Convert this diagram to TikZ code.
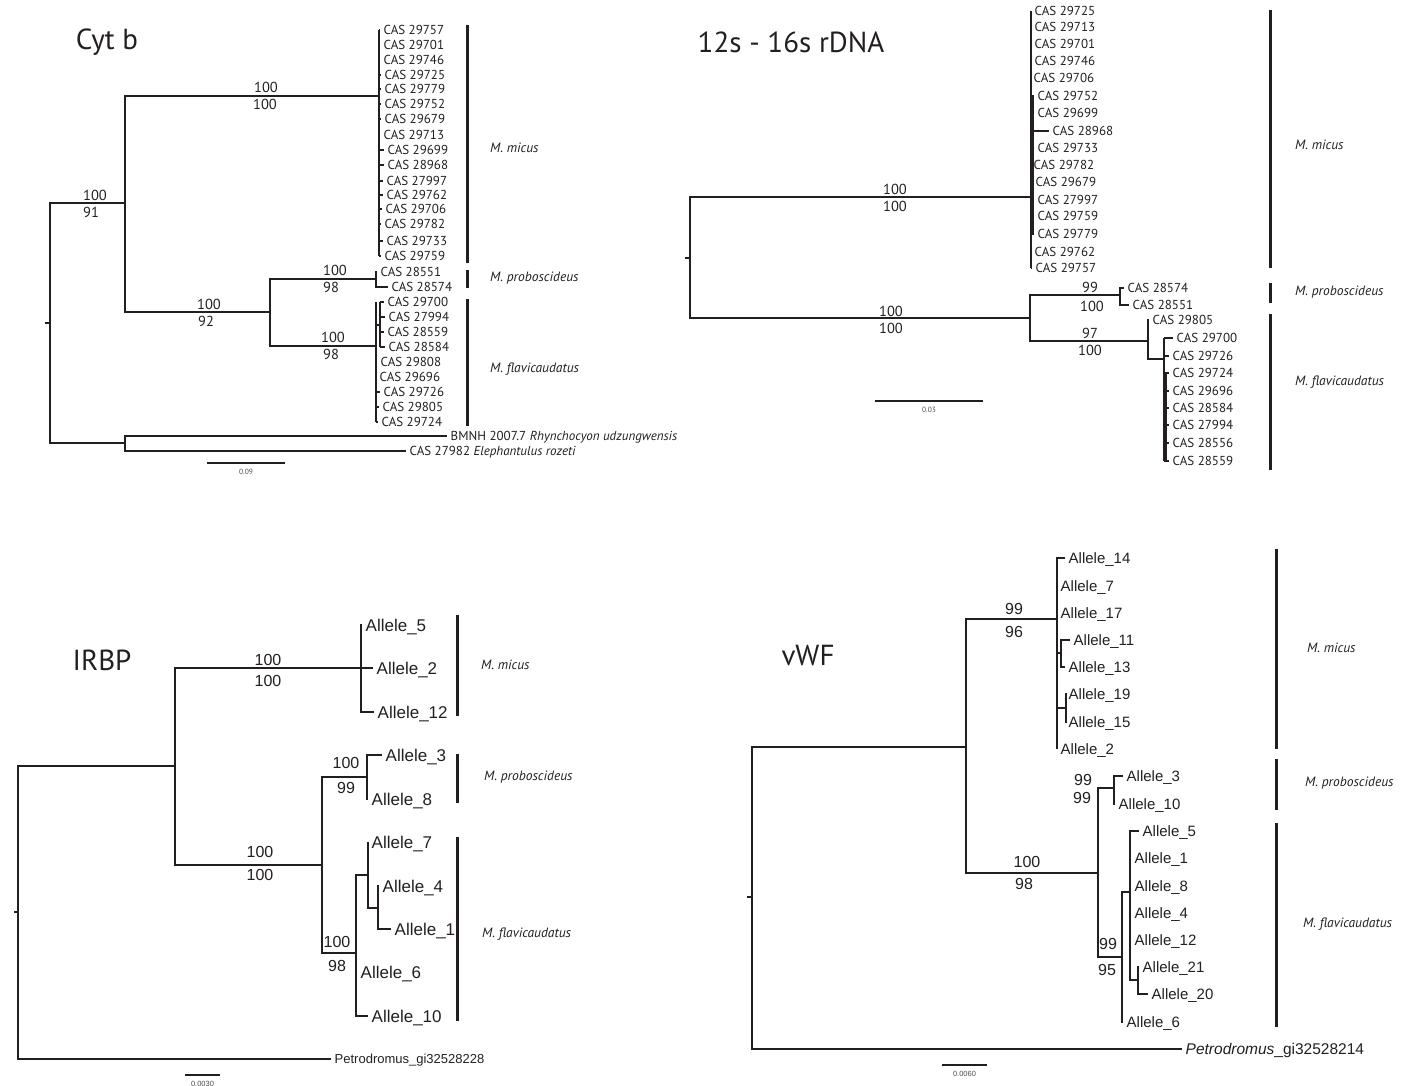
\documentclass[tikz,border=0pt]{standalone}
\usepackage{fontspec}
\newfontfamily\myr{PT Sans}
\newfontfamily\arl{Liberation Sans}
\definecolor{ink}{HTML}{231F20}
\tikzset{
  br/.style={line width=2.5pt, color=ink},
  twig/.style={line width=1.5pt, color=ink},
  stub/.style={line width=2.2pt, color=ink},
  grp/.style={line width=3pt, color=ink},
  sbar/.style={line width=2.4pt, color=ink},
  ttl/.style={font=\myr\fontsize{29}{29}\selectfont, text=ink, inner sep=0pt},
  cas/.style={font=\myr\fontsize{13}{13}\selectfont, text=ink, anchor=west, inner xsep=3.5pt, inner ysep=0pt, text height=9.2pt, text depth=0pt},
  bsc/.style={font=\myr\fontsize{14.5}{14.5}\selectfont, text=ink, inner sep=0pt, text height=10.2pt, text depth=0pt},
  alli/.style={font=\arl\fontsize{17}{17}\selectfont, text=ink, anchor=west, inner xsep=3.5pt, inner ysep=0pt, text height=12.2pt, text depth=0pt},
  allv/.style={alli, font=\arl\fontsize{15}{15}\selectfont, text height=10.8pt},
  bsa/.style={font=\arl\fontsize{16}{16}\selectfont, text=ink, inner sep=0pt, text height=11.5pt, text depth=0pt},
  spc/.style={font=\myr\itshape\fontsize{13.5}{13.5}\selectfont, text=ink, anchor=west, inner sep=0pt, text height=9.5pt, text depth=0pt},
  slab/.style={font=\myr\fontsize{7.5}{7.5}\selectfont, text=ink!80, inner sep=0pt},
  slaba/.style={font=\arl\fontsize{7.5}{7.5}\selectfont, text=ink!80, inner sep=0pt},
}
\begin{document}
\begin{tikzpicture}[x=1pt, y=-1pt]
\useasboundingbox (0,0) rectangle (1413,1086);

% ================= Cyt b =================
\node[ttl] (tcyt) at (107,42) {Cyt b};
\coordinate (c0) at (50,323);   % root
\coordinate (c1) at (125,203);  % ingroup
\coordinate (c2) at (379,96);   % M. micus
\coordinate (c3) at (270,312);
\coordinate (c4) at (376,279);  % M. proboscideus
\coordinate (c5) at (376,346);  % M. flavicaudatus
\coordinate (c5a) at (380,325);
\coordinate (c6) at (125,443);  % outgroups
\draw[stub] (c0) -- ++(-5,0);
\draw[br] (c1) -| (c0) |- (c6);
\draw[br] (c2) -| (c1) |- (c3);
\draw[br] (c4) -| (c3) |- (c5);
\node[bsc] (k1a) at (95,195) {100};  \node[bsc] (k1b) at (91,212) {91};
\node[bsc] (k2a) at (266,87) {100};  \node[bsc] (k2b) at (265,104) {100};
\node[bsc] (k3a) at (209,304) {100}; \node[bsc] (k3b) at (206,321) {92};
\node[bsc] (k4a) at (335,270) {100}; \node[bsc] (k4b) at (331,287) {98};
\node[bsc] (k5a) at (333,337) {100}; \node[bsc] (k5b) at (331,354) {98};

\foreach \n/\lab/\x/\y in {1/29757/380/30, 2/29701/380/45, 3/29746/380/60, 4/29725/381/75,
  5/29779/381/89, 6/29752/381/104, 7/29679/381/119, 8/29713/380/135, 9/29699/384/150,
  10/28968/384/165, 11/27997/383/181, 12/29762/383/195, 13/29706/382/209, 14/29782/381/224,
  15/29733/383/241, 16/29759/381/256}{
  \node[cas] (cm\n) at (\x,\y) {CAS \lab};
  \draw[twig] (cm\n.west -| c2) -- (cm\n.west);
}
\draw[br] (cm1.west -| c2) -- (cm16.west -| c2);

\node[cas] (cp1) at (377,272) {CAS 28551};
\node[cas] (cp2) at (388,287) {CAS 28574};
\draw[br] (cp1.west) -| (c4) |- (cp2.west);

\foreach \n/\lab/\x/\y in {1/29700/384/302, 2/27994/385/317, 3/28559/384/332, 4/28584/385/347}{
  \node[cas] (cf\n) at (\x,\y) {CAS \lab};
  \draw[twig] (cf\n.west -| c5a) -- (cf\n.west);
}
\foreach \n/\lab/\x/\y in {5/29808/377/362, 6/29696/376/377, 7/29726/380/392, 8/29805/379/407, 9/29724/378/422}{
  \node[cas] (cf\n) at (\x,\y) {CAS \lab};
  \draw[twig] (cf\n.west -| c5) -- (cf\n.west);
}
\draw[br] (cf1.west -| c5a) -- (cf4.west -| c5a);
\draw[br] (cf1.west -| c5) -- (cf9.west -| c5);
\draw[br] (c5a) -- (c5a -| c5);

\node[cas] (co1) at (447,436) {BMNH 2007.7 \textit{Rhynchocyon udzungwensis}};
\node[cas] (co2) at (406,451) {CAS 27982 \textit{Elephantulus rozeti}};
\draw[br] (co1.west) -| (c6) |- (co2.west);

\draw[grp] (467,25) -- (467,263);
\draw[grp] (467,270) -- (467,288);
\draw[grp] (467,299) -- (467,426);
\node[spc] (sc1) at (490,148) {M. micus};
\node[spc] (sc2) at (490,277) {M. proboscideus};
\node[spc] (sc3) at (490,368) {M. flavicaudatus};

\coordinate (cs1) at (207,463);
\coordinate (cs2) at (285,463);
\draw[sbar] (cs1) -- (cs2) node[slab, midway, below=5pt] (csl) {0.09};

% ================= 12s - 16s rDNA =================
\node[ttl] (t12) at (791,42) {12s - 16s rDNA};
\coordinate (r0) at (690,258);   % root
\coordinate (r1) at (1031,197);  % M. micus
\coordinate (r2) at (1030,318);
\coordinate (r3) at (1120,295);  % M. proboscideus
\coordinate (r4) at (1148,341);  % M. flavicaudatus
\coordinate (r5) at (1164,359);
\draw[stub] (r0) -- ++(-5,0);
\draw[br] (r1) -| (r0) |- (r2);
\draw[br] (r3) -| (r2) |- (r4);
\node[bsc] (q1a) at (895,189) {100};  \node[bsc] (q1b) at (895,206) {100};
\node[bsc] (q2a) at (891,311) {100};  \node[bsc] (q2b) at (891,328) {100};
\node[bsc] (q3a) at (1090,287) {99};  \node[bsc] (q3b) at (1092,306) {100};
\node[bsc] (q4a) at (1090,333) {97};  \node[bsc] (q4b) at (1090,350) {100};

\foreach \n/\lab/\x/\y in {1/29725/1031/11, 2/29713/1031/27, 3/29701/1031/44, 4/29746/1031/61,
  5/29706/1030/78, 6/29752/1034/96, 7/29699/1034/113, 8/28968/1049/131, 9/29733/1034/148,
  10/29782/1030/165, 11/29679/1032/182, 12/27997/1034/200, 13/29759/1034/216,
  14/29779/1034/234, 15/29762/1031/252, 16/29757/1032/268}{
  \node[cas] (rm\n) at (\x,\y) {CAS \lab};
  \draw[twig] (rm\n.west -| r1) -- (rm\n.west);
}
\draw[br] (rm1.west -| r1) -- (rm16.west -| r1);
\draw[br] (rm6.west -| r1) ++(2,0) -- ([xshift=2pt]rm14.west -| r1);
\draw[br] (rm8.west -| r1) -- ([xshift=-2pt]rm8.west);

\node[cas] (rp1) at (1124,288) {CAS 28574};
\node[cas] (rp2) at (1129,305) {CAS 28551};
\draw[br] (rp1.west) -| (r3) |- (rp2.west);

\node[cas] (rf0) at (1149,320) {CAS 29805};
\draw[br] (rf0.west) -| (r4) |- (r5);
\foreach \n/\lab/\x/\y in {1/29700/1173/338, 2/29726/1169/356, 3/29724/1169/373, 4/29696/1169/391,
  5/28584/1169/408, 6/27994/1169/425, 7/28556/1169/443, 8/28559/1169/461}{
  \node[cas] (rf\n) at (\x,\y) {CAS \lab};
  \draw[twig] (rf\n.west -| r5) -- (rf\n.west);
}
\draw[br] (rf1.west -| r5) -- (rf8.west -| r5);
\draw[twig] ([xshift=2pt]rf3.west -| r5) -- ([xshift=2pt]rf8.west -| r5);

\draw[grp] (1270,10) -- (1270,268);
\draw[grp] (1270,283) -- (1270,303);
\draw[grp] (1270,314) -- (1270,470);
\node[spc] (sr1) at (1295,145) {M. micus};
\node[spc] (sr2) at (1295,291) {M. proboscideus};
\node[spc] (sr3) at (1295,381) {M. flavicaudatus};

\coordinate (rs1) at (875,401);
\coordinate (rs2) at (983,401);
\draw[sbar] (rs1) -- (rs2) node[slab, midway, below=5pt] (rsl) {0.03};

% ================= IRBP =================
\node[ttl] (tir) at (102,660) {IRBP};
\coordinate (i0) at (18,912);   % root
\coordinate (i1) at (175,766);  % ingroup
\coordinate (i2) at (361,668);  % M. micus
\coordinate (i3) at (322,865);
\coordinate (i4) at (367,777);  % M. proboscideus
\coordinate (i5) at (356,953);  % M. flavicaudatus
\coordinate (i6) at (368,875);
\coordinate (i7) at (378,908);
\node[alli, font=\arl\fontsize{13}{13}\selectfont, text height=9.3pt] (ipe) at (331,1059) {Petrodromus\_gi32528228};
\draw[stub] (i0) -- ++(-4,0);
\draw[br] (i1) -| (i0) |- (ipe.west);
\draw[br] (i2) -| (i1) |- (i3);
\draw[br] (i4) -| (i3) |- (i5);
\node[bsa] (j1a) at (268,660) {100}; \node[bsa] (j1b) at (268,681) {100};
\node[bsa] (j2a) at (260,852) {100}; \node[bsa] (j2b) at (260,875) {100};
\node[bsa] (j3a) at (346,763) {100}; \node[bsa] (j3b) at (346,788) {99};
\node[bsa] (j4a) at (337,942) {100}; \node[bsa] (j4b) at (337,966) {98};

\node[alli] (ia5) at (362,625) {Allele\_5};
\node[alli] (ia2) at (373,668) {Allele\_2};
\node[alli] (ia12) at (374,712) {Allele\_12};
\draw[br] (ia5.west) -| (i2) |- (ia12.west);
\draw[br] (i2) -- (ia2.west);

\node[alli] (ia3) at (382,755) {Allele\_3};
\node[alli] (ia8) at (368,799) {Allele\_8};
\draw[br] (ia3.west) -| (i4) |- (ia8.west);

\node[alli] (ia7) at (368,842) {Allele\_7};
\node[alli] (ia4) at (379,886) {Allele\_4};
\node[alli] (ia1) at (391,929) {Allele\_1};
\node[alli] (ia6) at (357,972) {Allele\_6};
\node[alli] (ia10) at (368,1016) {Allele\_10};
\draw[br] (i6) -| (i5) |- (ia10.west);
\draw[br] (ia7.west) -| (i6) |- (i7);
\draw[br] (ia4.west) -| (i7) |- (ia1.west);

\draw[grp] (457,615) -- (457,716);
\draw[grp] (457,754) -- (457,803);
\draw[grp] (457,837) -- (457,1021);
\node[spc] (si1) at (481,665) {M. micus};
\node[spc] (si2) at (484,776) {M. proboscideus};
\node[spc] (si3) at (482,933) {M. flavicaudatus};

\coordinate (is1) at (185,1075);
\coordinate (is2) at (220,1075);
\draw[sbar] (is1) -- (is2) node[slaba, midway, below=5pt] (isl) {0.0030};

% ================= vWF =================
\node[ttl] (tvw) at (808,656) {vWF};
\coordinate (v0) at (752,897);   % root
\coordinate (v1) at (966,747);   % ingroup
\coordinate (v2) at (1057,619);  % M. micus
\coordinate (v2a) at (1061,653);
\coordinate (v2b) at (1066,708);
\coordinate (v3) at (1098,873);
\coordinate (v3a) at (1114,788); % M. proboscideus
\coordinate (v4) at (1122,957);  % M. flavicaudatus
\coordinate (v5) at (1130,892);
\coordinate (v6) at (1138,980);
\node[allv, font=\arl\fontsize{15.5}{15.5}\selectfont, text height=11.1pt] (vpe) at (1182,1049) {\textit{Petrodromus}\_gi32528214};
\draw[stub] (v0) -- ++(-5,0);
\draw[br] (v1) -| (v0) |- (vpe.west);
\draw[br] (v2) -| (v1) |- (v3);
\draw[br] (v3a) -| (v3) |- (v4);
\node[bsa] (w1a) at (1014,609) {99};  \node[bsa] (w1b) at (1014,632) {96};
\node[bsa] (w2a) at (1027,862) {100}; \node[bsa] (w2b) at (1024,884) {98};
\node[bsa] (w3a) at (1083,780) {99};  \node[bsa] (w3b) at (1082,798) {99};
\node[bsa] (w4a) at (1108,944) {99};  \node[bsa] (w4b) at (1107,970) {95};

\node[allv] (va14) at (1065,558) {Allele\_14};
\node[allv] (va7) at (1057,586) {Allele\_7};
\node[allv] (va17) at (1057,613) {Allele\_17};
\node[allv] (va11) at (1070,640) {Allele\_11};
\node[allv] (va13) at (1065,667) {Allele\_13};
\node[allv] (va19) at (1065,694) {Allele\_19};
\node[allv] (va15) at (1065,722) {Allele\_15};
\node[allv] (va2) at (1057,749) {Allele\_2};
\draw[br] (va14.west) -| (v2) |- (va2.west);
\draw[br] (va11.west) -| (v2a) |- (va13.west);
\draw[twig] (v2a) -- (v2a -| v2);
\draw[br] (va19.west) -| (v2b) |- (va15.west);
\draw[twig] (v2b) -- (v2b -| v2);

\node[allv] (va3) at (1123,776) {Allele\_3};
\node[allv] (va10) at (1115,804) {Allele\_10};
\draw[br] (va3.west) -| (v3a) |- (va10.west);

\node[allv] (vb5) at (1139,831) {Allele\_5};
\node[allv] (vb1) at (1131,858) {Allele\_1};
\node[allv] (vb8) at (1131,886) {Allele\_8};
\node[allv] (vb4) at (1131,913) {Allele\_4};
\node[allv] (vb12) at (1131,940) {Allele\_12};
\node[allv] (vb21) at (1139,967) {Allele\_21};
\node[allv] (vb20) at (1148,994) {Allele\_20};
\node[allv] (vb6) at (1123,1022) {Allele\_6};
\draw[br] (v5) -| (v4) |- (vb6.west);
\draw[br] (vb5.west) -| (v5) |- (v6);
\draw[br] (vb21.west) -| (v6) |- (vb20.west);

\draw[grp] (1276,549) -- (1276,749);
\draw[grp] (1276,759) -- (1276,810);
\draw[grp] (1276,823) -- (1276,1027);
\node[spc] (sv1) at (1307,648) {M. micus};
\node[spc] (sv2) at (1305,782) {M. proboscideus};
\node[spc] (sv3) at (1303,923) {M. flavicaudatus};

\coordinate (vs1) at (942,1065);
\coordinate (vs2) at (987,1065);
\draw[sbar] (vs1) -- (vs2) node[slaba, midway, below=5pt] (vsl) {0.0060};
\end{tikzpicture}
\end{document}
